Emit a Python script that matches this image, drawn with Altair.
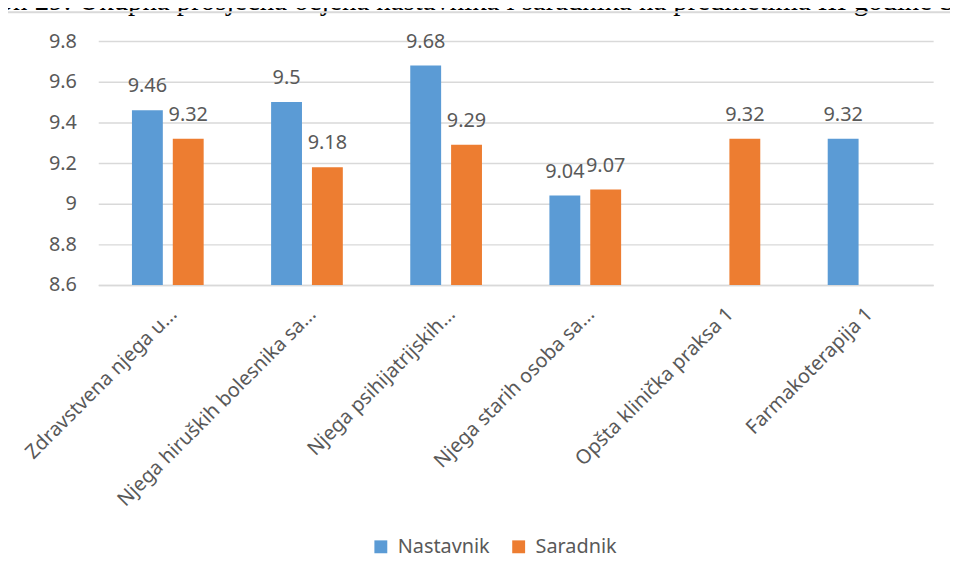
import altair as alt
import pandas as pd

categories = [
    "Zdravstvena njega u...",
    "Njega hiruških bolesnika sa...",
    "Njega psihijatrijskih...",
    "Njega starih osoba sa...",
    "Opšta klinička praksa 1",
    "Farmakoterapija 1",
]
series = ["Nastavnik", "Saradnik"]
nastavnik = [9.46, 9.5, 9.68, 9.04, None, 9.32]
saradnik = [9.32, 9.18, 9.29, 9.07, 9.32, None]
colors = ["#5B9BD5", "#ED7D31"]
y_ticks = [8.6, 8.8, 9.0, 9.2, 9.4, 9.6, 9.8]
title_text = "Grafikon 29: Ukupna prosječna ocjena nastavnika i saradnika na predmetima III godine S"

rows = []
for c, n, s in zip(categories, nastavnik, saradnik):
    if n is not None:
        rows.append({"Predmet": c, "Serija": "Nastavnik", "Ocjena": n})
    if s is not None:
        rows.append({"Predmet": c, "Serija": "Saradnik", "Ocjena": s})
df = pd.DataFrame(rows)

FONT = "Noto Sans"
GRAY = "#595959"
LINE = "#d9d9d9"

x_enc = alt.X(
    "Predmet:N",
    sort=categories,
    scale=alt.Scale(domain=categories, paddingInner=0.4846, paddingOuter=0.2423),
    axis=alt.Axis(
        title=None, labelAngle=-45, labelAlign="right", labelBaseline="middle",
        labelFontSize=20, labelColor=GRAY, labelFont=FONT, labelPadding=26, labelOffset=6,
        ticks=False, domainColor=LINE, domainWidth=1.5, labelLimit=400,
        labelOverlap=False, grid=False,
    ),
)
y_enc = alt.Y(
    "Ocjena:Q",
    scale=alt.Scale(domain=[8.6, 9.8], nice=False, zero=False),
    axis=alt.Axis(
        title=None, values=y_ticks, format="~g", labelFontSize=20, labelColor=GRAY,
        labelFont=FONT, labelPadding=22, ticks=False, domain=False,
        gridColor=LINE, gridWidth=1.5,
    ),
)
xoff = alt.XOffset("Serija:N", scale=alt.Scale(domain=series, paddingInner=0.244, paddingOuter=0))

base = alt.Chart(df)

bars = base.mark_bar().encode(
    x=x_enc, xOffset=xoff, y=y_enc, y2=alt.datum(8.6),
    color=alt.Color(
        "Serija:N",
        scale=alt.Scale(domain=series, range=colors),
        legend=alt.Legend(
            title=None, orient="none", legendX=275, legendY=500, direction="horizontal",
            symbolType="square", symbolSize=169, symbolStrokeWidth=0,
            labelFontSize=20, labelFont=FONT, labelColor=GRAY, columnPadding=19, labelOffset=7,
        ),
    ),
)

labels = base.mark_text(dy=-18, baseline="alphabetic", fontSize=20, font=FONT, color=GRAY).encode(
    x=x_enc, xOffset=xoff, y=y_enc, text=alt.Text("Ocjena:Q", format="~g")
)

one = alt.Data(values=[{"t": title_text}])
left_border = alt.Chart(one).mark_rule(color=LINE, strokeWidth=2).encode(
    x=alt.value(-94), y=alt.value(-29), y2=alt.value(560)
)
top_border = alt.Chart(one).mark_rule(color=LINE, strokeWidth=2).encode(
    x=alt.value(-94), x2=alt.value(859), y=alt.value(-29)
)
title_mark = alt.Chart(one).mark_text(
    align="left", baseline="alphabetic", font="Liberation Serif", fontSize=29, color="black"
).encode(x=alt.value(-176), y=alt.value(-31), text="t:N")

chart = alt.layer(title_mark, left_border, top_border, bars, labels).properties(
    width=842,
    height=246,
    autosize=alt.AutoSizeParams(type="none"),
    padding={"left": 91, "top": 31, "right": 17, "bottom": 285},
    usermeta={"embedOptions": {"defaultStyle": ".vega-embed svg{overflow:visible}"}},
).configure_view(stroke=None)

chart.save("out.html", embed_options={"renderer": "svg", "actions": False})
